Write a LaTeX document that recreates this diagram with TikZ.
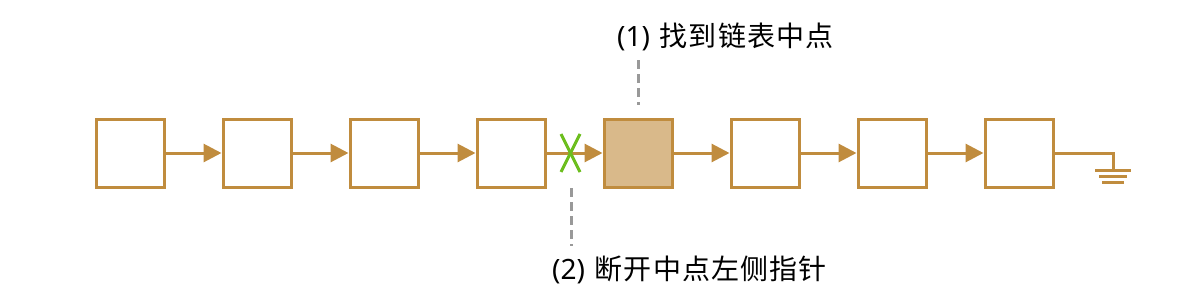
\documentclass[tikz,border=0pt]{standalone}
\usepackage{fontspec}
\setmainfont{Noto Sans}
\newfontfamily\cjk[LetterSpace=4]{Noto Sans CJK SC}
\usetikzlibrary{arrows.meta}
\definecolor{brownline}{HTML}{C08C3E}
\definecolor{brownfill}{HTML}{D9B98A}
\definecolor{xgreen}{HTML}{6CBE1E}
\definecolor{dashgray}{HTML}{999999}
\begin{document}
\begin{tikzpicture}[x=1pt,y=-1pt,
  listbox/.style={draw=brownline,line width=3pt,minimum width=68pt,minimum height=68pt,inner sep=0pt,fill=white},
  midbox/.style={listbox,fill=brownfill},
  link/.style={draw=brownline,line width=3pt,-{Triangle[length=18pt,width=18pt]}},
  guide/.style={draw=dashgray,line width=3pt,dash pattern=on 9pt off 5pt},
  label/.style={font=\fontsize{28pt}{32pt}\selectfont,text=black,inner sep=0pt}]
\useasboundingbox (0,0) rectangle (1200,300);
\foreach \i in {1,...,8}{
  \pgfmathsetmacro{\cx}{130+127*(\i-1)}
  \ifnum\i=5
    \node[midbox] (b\i) at (\cx,153) {};
  \else
    \node[listbox] (b\i) at (\cx,153) {};
  \fi
}
\foreach \i/\j in {1/2,2/3,3/4,4/5,5/6,6/7,7/8}{
  \draw[link] (b\i.east) -- (b\j.west);
}
% ground
\coordinate (g1) at (1113,153);
\coordinate (g2) at (1113,170);
\draw[brownline,line width=3pt] (b8.east) -- (g1) -- (g2);
\draw[brownline,line width=3pt] (1095,170) -- (1131,170);
\draw[brownline,line width=3pt] (1099,176) -- (1127,176);
\draw[brownline,line width=3pt] (1102,182) -- (1124,182);
% cut mark
\draw[xgreen,line width=3pt] (561,134) -- (580,172);
\draw[xgreen,line width=3pt] (580,134) -- (561,172);
% guides
\coordinate (t1) at (638,60);
\coordinate (t2) at (638,105);
\draw[guide] (t1) -- (t2);
\coordinate (u1) at (571,188);
\coordinate (u2) at (571,246);
\draw[guide] (u1) -- (u2);
\node[label,anchor=base west] (l1) at (617,46) {(1)\hspace{0.35em}{\cjk 找到链表中点}};
\node[label,anchor=base west] (l2) at (552,279) {(2)\hspace{0.35em}{\cjk 断开中点左侧指针}};
\end{tikzpicture}
\end{document}
